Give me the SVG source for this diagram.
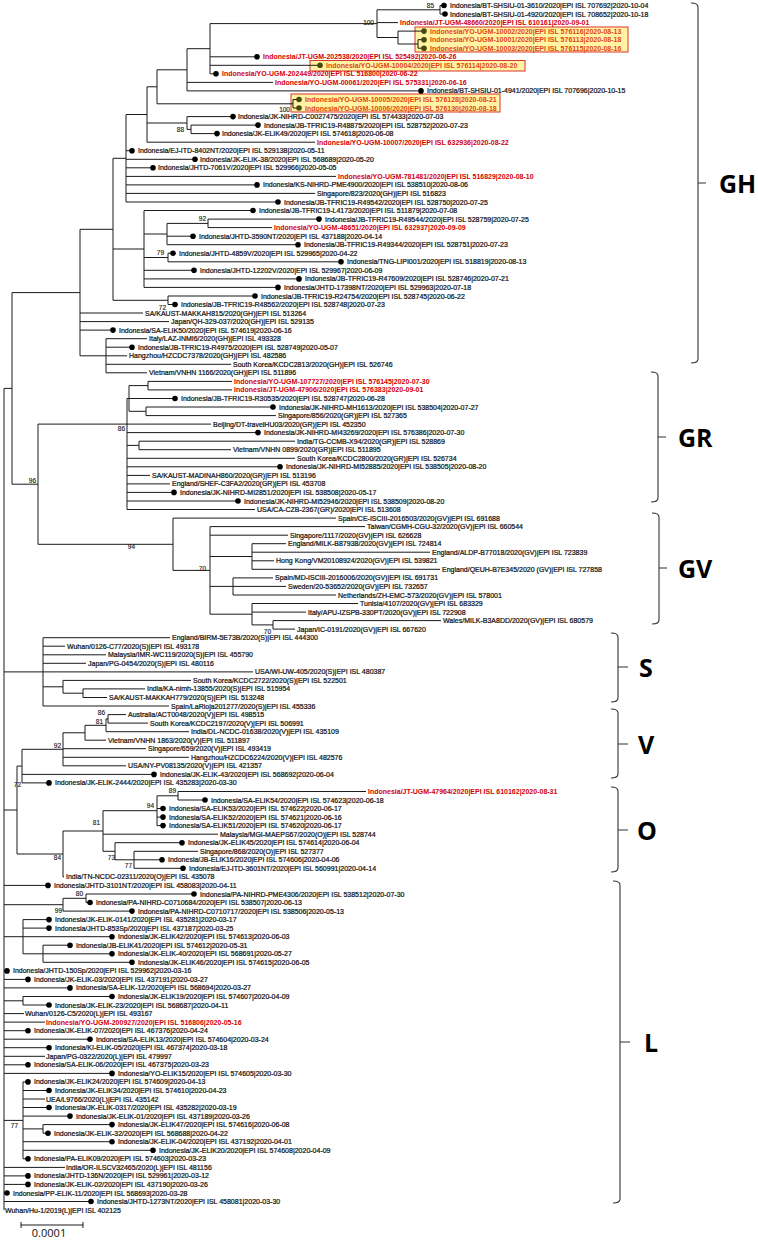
<svg xmlns="http://www.w3.org/2000/svg" xmlns:xlink="http://www.w3.org/1999/xlink" width="758" height="1240" viewBox="0 0 758 1240">
<style>
.k{font:7px "Liberation Sans",Arial,sans-serif;fill:#111;stroke:#111;stroke-width:0.22;dominant-baseline:central}
.r{font:bold 7px "Liberation Sans",Arial,sans-serif;fill:#d40000;dominant-baseline:central}
.o{font:bold 7px "Liberation Sans",Arial,sans-serif;fill:#e2450f;dominant-baseline:central}
.b{font:6.5px "Liberation Sans",Arial,sans-serif;fill:#222;stroke:#222;stroke-width:0.15;text-anchor:end;dominant-baseline:central}
.c{font:bold 25px "Open Sans","DejaVu Sans",sans-serif;fill:#000;dominant-baseline:central}
.ln{fill:none;stroke:#1a1a1a;stroke-width:1}
.br{fill:none;stroke:#333;stroke-width:1.1}
.box{fill:#fff4a3;stroke:#d9342b;stroke-width:1}
</style>
<defs>
<circle id="d" r="2.8" fill="#000"/>
<circle id="g" r="2.8" fill="#4a4a08"/>
</defs>
<rect width="758" height="1240" fill="#fff"/>
<g id="highlight-boxes">
<rect class="box" x="415" y="27" width="213" height="25"/>
<rect class="box" x="310" y="60.5" width="215" height="10.5"/>
<rect class="box" x="291" y="94" width="209" height="18"/>
</g>
<g id="connectors">
<path class="ln" d="M440 5.5V14M440 5.5H444M440 14H445M418 39.7V48.2M418 39.7H424M418 48.2H424M398 31.1V44M398 31.1H424M398 44H418M377 9.8V37.5M377 9.8H440M377 22.6H398M377 37.5H398M210 23.6V73.8M210 23.6H377M210 56.8H257M210 65.3H320M210 73.8H216M187 48.7V90.9M187 48.7H210M187 82.4H273M187 90.9H421M293 99.5V108M293 99.5H299M293 108H299M157 69.8V103.8M157 69.8H187M157 103.8H293M191 125.1V133.6M191 125.1H258M191 133.6H217M187 116.6V129.4M187 116.6H233M187 129.4H191M147 86.8V142.2M147 86.8H157M147 123H187M147 142.2H315M126 114.5V202M126 114.5H147M126 150.7H132M126 159.3H195M126 167.8H153M126 176.4H336M126 184.9H257M126 193.4H315M126 202H278M208 219.1V227.6M208 219.1H319M208 227.6H272M167 223.4V244.7M167 223.4H208M167 236.2H193M167 244.7H298M168 253.2V261.8M168 253.2H173M168 261.8H341M144 210.5V287.4M144 210.5H253M144 234H167M144 257.5H168M144 270.3H194M144 278.9H299M144 287.4H278M168 296V304.5M168 296H255M168 304.5H175M113 158.3V300.3M113 158.3H126M113 249H144M113 300.3H168M106 338.7V372.8M106 338.7H147M106 347.2H132M106 355.8H127M106 364.3H231M106 372.8H147M80 229.3V355.8M80 229.3H113M80 313H143M80 321.6H169M80 330.1H113M80 355.8H106"/>
<path class="ln" d="M148 381.4V389.9M148 381.4H232M148 389.9H232M146 407V415.6M146 407H273M146 415.6H276M129 385.6V411.3M129 385.6H148M129 398.5H175M129 411.3H146M139 441.2V449.7M139 441.2H295M139 449.7H231M127 398.5V509.5M127 398.5H129M127 424.1H211M127 432.6H258M127 445.4H139M127 458.3H295M127 466.8H280M127 475.4H150M127 483.9H170M127 492.4H174M127 501H238M127 509.5H255"/>
<path class="ln" d="M273 620.6V629.1M273 620.6H441M273 629.1H295M252 603.5V624.9M252 603.5H358M252 612.1H306M252 624.9H273M233 577.9V595M233 577.9H273M233 586.4H286M233 595H336M252 543.7V569.3M252 543.7H286M252 552.2H430M252 560.8H274M252 569.3H440M210 526.6V614.2M210 526.6H365M210 535.2H288M210 556.5H252M210 586.4H233M210 614.2H252M173 518.1V570.4M173 518.1H336M173 570.4H210M38 424.1V544.3M38 424.1H127M38 544.3H173M12 292.6V484.2M12 292.6H80M12 484.2H38M4 388.4V1210.1M4 388.4H12"/>
<path class="ln" d="M83 688.9V697.5M83 688.9H145M83 697.5H107M63 680.4V693.2M63 680.4H191M63 693.2H83M43 637.7V706M43 637.7H170M43 646.2H65M43 654.8H106M43 663.3H86M43 671.9H253M43 686.8H63M43 706H169M4 671.9H43"/>
<path class="ln" d="M108 714.6V723.1M108 714.6H126M108 723.1H148M106 718.9V731.7M106 718.9H108M106 731.7H189M85 725.3V740.2M85 725.3H106M85 740.2H106M63 732.8V765.8M63 732.8H85M63 748.7H146M63 757.3H189M63 765.8H126M22 749.3V782.9M22 749.3H63M22 774.4H154M22 782.9H49"/>
<path class="ln" d="M178 791.5V800M178 791.5H366M178 800H205M157 795.8V825.6M157 795.8H178M157 808.5H163M157 817.1H163M157 825.6H163M134 851.3V868.3M134 851.3H198M134 859.8H162M134 868.3H183M115 842.7V859.8M115 842.7H182M115 859.8H134M103 810.7V851.3M103 810.7H157M103 834.2H218M103 851.3H115M63 831V876.9M63 831H103M63 876.9H64M17 766.1V854M17 766.1H22M17 854H63M4 810H17"/>
<path class="ln" d="M4 885.4H48M86 894V902.5M86 894H194M86 902.5H90M63 898.3V911.1M63 898.3H86M63 911.1H132M4 904.7H63M43 945.2V962.3M43 945.2H70M43 953.8H112M43 962.3H132M23 919.6V953.8M23 919.6H49M23 928.1H49M23 953.8H43M4 936.7H112M4 970.9H7M4 979.4H28M4 987.9H70M23 996.5V1005M23 996.5H112M23 1005H49M4 1000.8H23M4 1013.6H24M4 1022.1H45M4 1030.7H28M4 1039.2H90M4 1047.7H49M4 1056.3H45M4 1064.8H28M4 1073.4H112M43 1124.6V1133.2M43 1124.6H112M43 1133.2H48M23 1081.9V1158.8M23 1081.9H28M23 1090.5H49M23 1099H45M23 1107.5H49M23 1116.1H70M23 1128.9H43M23 1141.7H112M23 1150.3H153M23 1158.8H28M4 1120.4H23M4 1167.4H65M4 1175.9H28M4 1184.4H28M4 1193H7M4 1201.5H91"/>
</g>
<g id="bootstrap">
<text class="b" x="434" y="5">85</text>
<text class="b" x="374" y="22.5">100</text>
<text class="b" x="290" y="109.5">100</text>
<text class="b" x="184" y="129.5">88</text>
<text class="b" x="206" y="218.5">92</text>
<text class="b" x="164" y="252.5">79</text>
<text class="b" x="166" y="307.5">72</text>
<text class="b" x="125" y="428">86</text>
<text class="b" x="36" y="480">96</text>
<text class="b" x="135" y="546">94</text>
<text class="b" x="206" y="568">70</text>
<text class="b" x="271" y="631">70</text>
<text class="b" x="105" y="712.5">86</text>
<text class="b" x="103" y="721">81</text>
<text class="b" x="61" y="745">92</text>
<text class="b" x="21" y="784">72</text>
<text class="b" x="176" y="790">89</text>
<text class="b" x="154" y="805">94</text>
<text class="b" x="100" y="822">81</text>
<text class="b" x="61" y="857">84</text>
<text class="b" x="115" y="857">73</text>
<text class="b" x="132" y="865">77</text>
<text class="b" x="83" y="893">80</text>
<text class="b" x="62" y="910">99</text>
<text class="b" x="18" y="1125">77</text>
</g>
<g id="leaves">
<g id="n1"><use href="#d" x="444" y="5.5"/><text class="k" x="450" y="5.5">Indonesia/BT-SHSIU-01-3610/2020|EPI ISL 707692|2020-10-04</text></g>
<g id="n2"><use href="#d" x="445" y="14"/><text class="k" x="450" y="14">Indonesia/BT-SHSIU-01-4920/2020|EPI ISL 708652|2020-10-18</text></g>
<g id="n3"><text class="r" x="400" y="22.6">Indonesia/JT-UGM-48660/2020|EPI ISL 610161|2020-09-01</text></g>
<g id="n4"><use href="#g" x="424" y="31.1"/><text class="o" x="430" y="31.1">Indonesia/YO-UGM-10002/2020|EPI ISL 576116|2020-08-13</text></g>
<g id="n5"><use href="#g" x="424" y="39.7"/><text class="o" x="430" y="39.7">Indonesia/YO-UGM-10001/2020|EPI ISL 576113|2020-08-18</text></g>
<g id="n6"><use href="#g" x="424" y="48.2"/><text class="o" x="430" y="48.2">Indonesia/YO-UGM-10003/2020|EPI ISL 576115|2020-08-16</text></g>
<g id="n7"><use href="#d" x="257" y="56.8"/><text class="r" x="263" y="56.8">Indonesia/JT-UGM-202538/2020|EPI ISL 525492|2020-06-26</text></g>
<g id="n8"><use href="#g" x="320" y="65.3"/><text class="o" x="326" y="65.3">Indonesia/YO-UGM-10004/2020|EPI ISL 576114|2020-08-20</text></g>
<g id="n9"><use href="#d" x="216" y="73.8"/><text class="r" x="222" y="73.8">Indonesia/YO-UGM-202449/2020|EPI ISL 516800|2020-06-22</text></g>
<g id="n10"><text class="r" x="275" y="82.4">Indonesia/YO-UGM-00061/2020|EPI ISL 575331|2020-06-16</text></g>
<g id="n11"><use href="#d" x="421" y="90.9"/><text class="k" x="427" y="90.9">Indonesia/BT-SHSIU-01-4941/2020|EPI ISL 707696|2020-10-15</text></g>
<g id="n12"><use href="#g" x="299" y="99.5"/><text class="o" x="305" y="99.5">Indonesia/YO-UGM-10005/2020|EPI ISL 576128|2020-08-21</text></g>
<g id="n13"><use href="#g" x="299" y="108"/><text class="o" x="305" y="108">Indonesia/YO-UGM-10006/2020|EPI ISL 576130|2020-08-18</text></g>
<g id="n14"><use href="#d" x="233" y="116.6"/><text class="k" x="238" y="116.6">Indonesia/JK-NIHRD-C0027475/2020|EPI ISL 574433|2020-07-03</text></g>
<g id="n15"><use href="#d" x="258" y="125.1"/><text class="k" x="264" y="125.1">Indonesia/JB-TFRIC19-R48875/2020|EPI ISL 528752|2020-07-23</text></g>
<g id="n16"><use href="#d" x="217" y="133.6"/><text class="k" x="222" y="133.6">Indonesia/JK-ELIK49/2020|EPI ISL 574618|2020-06-08</text></g>
<g id="n17"><text class="r" x="317" y="142.2">Indonesia/YO-UGM-10007/2020|EPI ISL 632936|2020-08-22</text></g>
<g id="n18"><use href="#d" x="132" y="150.7"/><text class="k" x="138" y="150.7">Indonesia/EJ-ITD-8402NT/2020|EPI ISL 529138|2020-05-11</text></g>
<g id="n19"><use href="#d" x="195" y="159.3"/><text class="k" x="200" y="159.3">Indonesia/JK-ELIK-38/2020|EPI ISL 568689|2020-05-20</text></g>
<g id="n20"><use href="#d" x="153" y="167.8"/><text class="k" x="158" y="167.8">Indonesia/JHTD-7061V/2020|EPI ISL 529966|2020-05-05</text></g>
<g id="n21"><text class="r" x="338" y="176.4">Indonesia/YO-UGM-781481/2020|EPI ISL 516829|2020-08-10</text></g>
<g id="n22"><use href="#d" x="257" y="184.9"/><text class="k" x="263" y="184.9">Indonesia/KS-NIHRD-PME4900/2020|EPI ISL 538510|2020-08-06</text></g>
<g id="n23"><text class="k" x="317" y="193.4">Singapore/823/2020(GH)|EPI ISL 516823</text></g>
<g id="n24"><use href="#d" x="278" y="202"/><text class="k" x="284" y="202">Indonesia/JB-TFRIC19-R49542/2020|EPI ISL 528750|2020-07-25</text></g>
<g id="n25"><use href="#d" x="253" y="210.5"/><text class="k" x="259" y="210.5">Indonesia/JB-TFRIC19-L4173/2020|EPI ISL 511879|2020-07-08</text></g>
<g id="n26"><use href="#d" x="319" y="219.1"/><text class="k" x="325" y="219.1">Indonesia/JB-TFRIC19-R49544/2020|EPI ISL 528759|2020-07-25</text></g>
<g id="n27"><text class="r" x="274" y="227.6">Indonesia/YO-UGM-48651/2020|EPI ISL 632937|2020-09-09</text></g>
<g id="n28"><use href="#d" x="193" y="236.2"/><text class="k" x="199" y="236.2">Indonesia/JHTD-3590NT/2020|EPI ISL 437188|2020-04-14</text></g>
<g id="n29"><use href="#d" x="298" y="244.7"/><text class="k" x="304" y="244.7">Indonesia/JB-TFRIC19-R49344/2020|EPI ISL 528751|2020-07-23</text></g>
<g id="n30"><use href="#d" x="173" y="253.2"/><text class="k" x="179" y="253.2">Indonesia/JHTD-4859V/2020|EPI ISL 529965|2020-04-22</text></g>
<g id="n31"><use href="#d" x="341" y="261.8"/><text class="k" x="347" y="261.8">Indonesia/TNG-LIPI001/2020|EPI ISL 518819|2020-08-13</text></g>
<g id="n32"><use href="#d" x="194" y="270.3"/><text class="k" x="200" y="270.3">Indonesia/JHTD-12202V/2020|EPI ISL 529967|2020-06-09</text></g>
<g id="n33"><use href="#d" x="299" y="278.9"/><text class="k" x="305" y="278.9">Indonesia/JB-TFRIC19-R47609/2020|EPI ISL 528746|2020-07-21</text></g>
<g id="n34"><use href="#d" x="278" y="287.4"/><text class="k" x="284" y="287.4">Indonesia/JHTD-17398NT/2020|EPI ISL 529963|2020-07-18</text></g>
<g id="n35"><use href="#d" x="255" y="296"/><text class="k" x="261" y="296">Indonesia/JB-TFRIC19-R24754/2020|EPI ISL 528745|2020-06-22</text></g>
<g id="n36"><use href="#d" x="175" y="304.5"/><text class="k" x="181" y="304.5">Indonesia/JB-TFRIC19-R48562/2020|EPI ISL 528748|2020-07-23</text></g>
<g id="n37"><text class="k" x="145" y="313">SA/KAUST-MAKKAH815/2020(GH)|EPI ISL 513264</text></g>
<g id="n38"><text class="k" x="171" y="321.6">Japan/QH-329-037/2020(GH)|EPI ISL 529135</text></g>
<g id="n39"><use href="#d" x="113" y="330.1"/><text class="k" x="119" y="330.1">Indonesia/SA-ELIK50/2020|EPI ISL 574619|2020-06-16</text></g>
<g id="n40"><text class="k" x="149" y="338.7">Italy/LAZ-INMI6/2020(GH)|EPI ISL 493328</text></g>
<g id="n41"><use href="#d" x="132" y="347.2"/><text class="k" x="138" y="347.2">Indonesia/JB-TFRIC19-R4975/2020|EPI ISL 528749|2020-05-07</text></g>
<g id="n42"><text class="k" x="129" y="355.8">Hangzhou/HZCDC7378/2020(GH)|EPI ISL 482586</text></g>
<g id="n43"><text class="k" x="233" y="364.3">South Korea/KCDC2813/2020(GH)|EPI ISL 526746</text></g>
<g id="n44"><text class="k" x="149" y="372.8">Vietnam/VNHN 1166/2020(GH)|EPI ISL 511896</text></g>
<g id="n45"><text class="r" x="234" y="381.4">Indonesia/YO-UGM-107727/2020|EPI ISL 576145|2020-07-30</text></g>
<g id="n46"><text class="r" x="234" y="389.9">Indonesia/JT-UGM-47906/2020|EPI ISL 576383|2020-09-01</text></g>
<g id="n47"><use href="#d" x="175" y="398.5"/><text class="k" x="181" y="398.5">Indonesia/JB-TFRIC19-R30535/2020|EPI ISL 528747|2020-06-28</text></g>
<g id="n48"><use href="#d" x="273" y="407"/><text class="k" x="279" y="407">Indonesia/JK-NIHRD-MH1613/2020|EPI ISL 538504|2020-07-27</text></g>
<g id="n49"><text class="k" x="278" y="415.6">Singapore/856/2020(GR)|EPI ISL 527365</text></g>
<g id="n50"><text class="k" x="213" y="424.1">Beijing/DT-travelHU03/2020(GR)|EPI ISL 452350</text></g>
<g id="n51"><use href="#d" x="258" y="432.6"/><text class="k" x="264" y="432.6">Indonesia/JK-NIHRD-MI43269/2020|EPI ISL 576386|2020-07-30</text></g>
<g id="n52"><text class="k" x="297" y="441.2">India/TG-CCMB-X94/2020(GR)|EPI ISL 528869</text></g>
<g id="n53"><text class="k" x="233" y="449.7">Vietnam/VNHN 0899/2020(GR)|EPI ISL 511895</text></g>
<g id="n54"><text class="k" x="297" y="458.3">South Korea/KCDC2800/2020(GR)|EPI ISL 526734</text></g>
<g id="n55"><use href="#d" x="280" y="466.8"/><text class="k" x="286" y="466.8">Indonesia/JK-NIHRD-MI52885/2020|EPI ISL 538505|2020-08-20</text></g>
<g id="n56"><text class="k" x="152" y="475.4">SA/KAUST-MADINAH860/2020(GR)|EPI ISL 513196</text></g>
<g id="n57"><text class="k" x="172" y="483.9">England/SHEF-C3FA2/2020(GR)|EPI ISL 453708</text></g>
<g id="n58"><use href="#d" x="174" y="492.4"/><text class="k" x="180" y="492.4">Indonesia/JK-NIHRD-MI2851/2020|EPI ISL 538508|2020-05-17</text></g>
<g id="n59"><use href="#d" x="238" y="501"/><text class="k" x="244" y="501">Indonesia/JK-NIHRD-MI52946/2020|EPI ISL 538509|2020-08-20</text></g>
<g id="n60"><text class="k" x="257" y="509.5">USA/CA-CZB-2367(GR)/2020|EPI ISL 513608</text></g>
<g id="n61"><text class="k" x="338" y="518.1">Spain/CE-ISCIII-2016503/2020(GV)|EPI ISL 691688</text></g>
<g id="n62"><text class="k" x="367" y="526.6">Taiwan/CGMH-CGU-32/2020(GV)|EPI ISL 660544</text></g>
<g id="n63"><text class="k" x="290" y="535.2">Singapore/1117/2020(GV)|EPI ISL 626628</text></g>
<g id="n64"><text class="k" x="288" y="543.7">England/MILK-B87938/2020(GV)|EPI ISL 724814</text></g>
<g id="n65"><text class="k" x="432" y="552.2">England/ALDP-B77018/2020(GV)|EPI ISL 723839</text></g>
<g id="n66"><text class="k" x="276" y="560.8">Hong Kong/VM20108924/2020(GV)|EPI ISL 539821</text></g>
<g id="n67"><text class="k" x="442" y="569.3">England/QEUH-B7E345/2020 (GV)|EPI ISL 727858</text></g>
<g id="n68"><text class="k" x="275" y="577.9">Spain/MD-ISCIII-2016006/2020(GV)|EPI ISL 691731</text></g>
<g id="n69"><text class="k" x="288" y="586.4">Sweden/20-53652/2020(GV)|EPI ISL 732657</text></g>
<g id="n70"><text class="k" x="338" y="595">Netherlands/ZH-EMC-573/2020(GV)|EPI ISL 578001</text></g>
<g id="n71"><text class="k" x="360" y="603.5">Tunisia/4107/2020(GV)|EPI ISL 683329</text></g>
<g id="n72"><text class="k" x="308" y="612.1">Italy/APU-IZSPB-330PT/2020(GV)|EPI ISL 722908</text></g>
<g id="n73"><text class="k" x="443" y="620.6">Wales/MILK-B3A8DD/2020(GV)|EPI ISL 680579</text></g>
<g id="n74"><text class="k" x="297" y="629.1">Japan/IC-0191/2020(GV)|EPI ISL 667620</text></g>
<g id="n75"><text class="k" x="172" y="637.7">England/BIRM-5E73B/2020(S)|EPI ISL 444300</text></g>
<g id="n76"><text class="k" x="67" y="646.2">Wuhan/0126-C77/2020(S)|EPI ISL 493178</text></g>
<g id="n77"><text class="k" x="108" y="654.8">Malaysia/IMR-WC119/2020(S)|EPI ISL 455790</text></g>
<g id="n78"><text class="k" x="88" y="663.3">Japan/PG-0454/2020(S)|EPI ISL 480116</text></g>
<g id="n79"><text class="k" x="255" y="671.9">USA/WI-UW-405/2020(S)|EPI ISL 480387</text></g>
<g id="n80"><text class="k" x="193" y="680.4">South Korea/KCDC2722/2020(S)|EPI ISL 522501</text></g>
<g id="n81"><text class="k" x="147" y="688.9">India/KA-nimh-13855/2020(S)|EPI ISL 515954</text></g>
<g id="n82"><text class="k" x="109" y="697.5">SA/KAUST-MAKKAH779/2020(S)|EPI ISL 513248</text></g>
<g id="n83"><text class="k" x="171" y="706">Spain/LaRioja201277/2020(S)|EPI ISL 455336</text></g>
<g id="n84"><text class="k" x="128" y="714.6">Australia/ACT0048/2020(V)|EPI ISL 498515</text></g>
<g id="n85"><text class="k" x="150" y="723.1">South Korea/KCDC2197/2020(V)|EPI ISL 506991</text></g>
<g id="n86"><text class="k" x="191" y="731.7">India/DL-NCDC-01638/2020(V)|EPI ISL 435109</text></g>
<g id="n87"><text class="k" x="108" y="740.2">Vietnam/VNHN 1863/2020(V)|EPI ISL 511897</text></g>
<g id="n88"><text class="k" x="148" y="748.7">Singapore/659/2020(V)|EPI ISL 493419</text></g>
<g id="n89"><text class="k" x="191" y="757.3">Hangzhou/HZCDC6224/2020(V)|EPI ISL 482576</text></g>
<g id="n90"><text class="k" x="128" y="765.8">USA/NY-PV08135/2020(V)|EPI ISL 421357</text></g>
<g id="n91"><use href="#d" x="154" y="774.4"/><text class="k" x="160" y="774.4">Indonesia/JK-ELIK-43/2020|EPI ISL 568692|2020-06-04</text></g>
<g id="n92"><use href="#d" x="49" y="782.9"/><text class="k" x="55" y="782.9">Indonesia/JK-ELIK-2444/2020|EPI ISL 435283|2020-03-30</text></g>
<g id="n93"><text class="r" x="368" y="791.5">Indonesia/JT-UGM-47964/2020|EPI ISL 610162|2020-08-31</text></g>
<g id="n94"><use href="#d" x="205" y="800"/><text class="k" x="211" y="800">Indonesia/SA-ELIK54/2020|EPI ISL 574623|2020-06-18</text></g>
<g id="n95"><use href="#d" x="163" y="808.5"/><text class="k" x="169" y="808.5">Indonesia/SA-ELIK53/2020|EPI ISL 574622|2020-06-17</text></g>
<g id="n96"><use href="#d" x="163" y="817.1"/><text class="k" x="169" y="817.1">Indonesia/SA-ELIK52/2020|EPI ISL 574621|2020-06-16</text></g>
<g id="n97"><use href="#d" x="163" y="825.6"/><text class="k" x="169" y="825.6">Indonesia/SA-ELIK51/2020|EPI ISL 574620|2020-06-17</text></g>
<g id="n98"><text class="k" x="220" y="834.2">Malaysia/MGI-MAEPS67/2020(O)|EPI ISL 528744</text></g>
<g id="n99"><use href="#d" x="182" y="842.7"/><text class="k" x="188" y="842.7">Indonesia/JK-ELIK45/2020|EPI ISL 574614|2020-06-04</text></g>
<g id="n100"><text class="k" x="200" y="851.3">Singapore/868/2020(O)|EPI ISL 527377</text></g>
<g id="n101"><use href="#d" x="162" y="859.8"/><text class="k" x="168" y="859.8">Indonesia/JB-ELIK16/2020|EPI ISL 574606|2020-04-06</text></g>
<g id="n102"><use href="#d" x="183" y="868.3"/><text class="k" x="189" y="868.3">Indonesia/EJ-ITD-3601NT/2020|EPI ISL 560991|2020-04-14</text></g>
<g id="n103"><text class="k" x="66" y="876.9">India/TN-NCDC-02311/2020(O)|EPI ISL 435078</text></g>
<g id="n104"><use href="#d" x="48" y="885.4"/><text class="k" x="54" y="885.4">Indonesia/JHTD-3101NT/2020|EPI ISL 458083|2020-04-11</text></g>
<g id="n105"><use href="#d" x="194" y="894"/><text class="k" x="200" y="894">Indonesia/PA-NIHRD-PME4306/2020|EPI ISL 538512|2020-07-30</text></g>
<g id="n106"><use href="#d" x="90" y="902.5"/><text class="k" x="96" y="902.5">Indonesia/PA-NIHRD-C0710684/2020|EPI ISL 538507|2020-06-13</text></g>
<g id="n107"><use href="#d" x="132" y="911.1"/><text class="k" x="138" y="911.1">Indonesia/PA-NIHRD-C0710717/2020|EPI ISL 538506|2020-05-13</text></g>
<g id="n108"><use href="#d" x="49" y="919.6"/><text class="k" x="55" y="919.6">Indonesia/JK-ELIK-0141/2020|EPI ISL 435281|2020-03-17</text></g>
<g id="n109"><use href="#d" x="49" y="928.1"/><text class="k" x="55" y="928.1">Indonesia/JHTD-853Sp/2020|EPI ISL 437187|2020-03-25</text></g>
<g id="n110"><use href="#d" x="112" y="936.7"/><text class="k" x="118" y="936.7">Indonesia/JK-ELIK42/2020|EPI ISL 574613|2020-06-03</text></g>
<g id="n111"><use href="#d" x="70" y="945.2"/><text class="k" x="76" y="945.2">Indonesia/JB-ELIK41/2020|EPI ISL 574612|2020-05-31</text></g>
<g id="n112"><use href="#d" x="112" y="953.8"/><text class="k" x="118" y="953.8">Indonesia/JK-ELIK-40/2020|EPI ISL 568691|2020-05-27</text></g>
<g id="n113"><use href="#d" x="132" y="962.3"/><text class="k" x="138" y="962.3">Indonesia/JK-ELIK46/2020|EPI ISL 574615|2020-06-05</text></g>
<g id="n114"><use href="#d" x="7" y="970.9"/><text class="k" x="13" y="970.9">Indonesia/JHTD-150Sp/2020|EPI ISL 529962|2020-03-16</text></g>
<g id="n115"><use href="#d" x="28" y="979.4"/><text class="k" x="34" y="979.4">Indonesia/JK-ELIK-03/2020|EPI ISL 437191|2020-03-27</text></g>
<g id="n116"><use href="#d" x="70" y="987.9"/><text class="k" x="76" y="987.9">Indonesia/SA-ELIK-12/2020|EPI ISL 568694|2020-03-27</text></g>
<g id="n117"><use href="#d" x="112" y="996.5"/><text class="k" x="118" y="996.5">Indonesia/JK-ELIK19/2020|EPI ISL 574607|2020-04-09</text></g>
<g id="n118"><use href="#d" x="49" y="1005"/><text class="k" x="55" y="1005">Indonesia/JK-ELIK-23/2020|EPI ISL 568687|2020-04-11</text></g>
<g id="n119"><text class="k" x="25" y="1013.6">Wuhan/0126-C5/2020(L)|EPI ISL 493167</text></g>
<g id="n120"><text class="r" x="46" y="1022.1">Indonesia/YO-UGM-200927/2020|EPI ISL 516806|2020-05-16</text></g>
<g id="n121"><use href="#d" x="28" y="1030.7"/><text class="k" x="34" y="1030.7">Indonesia/JK-ELIK-07/2020|EPI ISL 467376|2020-04-24</text></g>
<g id="n122"><use href="#d" x="90" y="1039.2"/><text class="k" x="96" y="1039.2">Indonesia/SA-ELIK13/2020|EPI ISL 574604|2020-03-24</text></g>
<g id="n123"><use href="#d" x="49" y="1047.7"/><text class="k" x="55" y="1047.7">Indonesia/KI-ELIK-05/2020|EPI ISL 467374|2020-03-18</text></g>
<g id="n124"><text class="k" x="46" y="1056.3">Japan/PG-0322/2020(L)|EPI ISL 479997</text></g>
<g id="n125"><use href="#d" x="28" y="1064.8"/><text class="k" x="34" y="1064.8">Indonesia/SA-ELIK-06/2020|EPI ISL 467375|2020-03-23</text></g>
<g id="n126"><use href="#d" x="112" y="1073.4"/><text class="k" x="118" y="1073.4">Indonesia/YO-ELIK15/2020|EPI ISL 574605|2020-03-30</text></g>
<g id="n127"><use href="#d" x="28" y="1081.9"/><text class="k" x="34" y="1081.9">Indonesia/JK-ELIK24/2020|EPI ISL 574609|2020-04-13</text></g>
<g id="n128"><use href="#d" x="49" y="1090.5"/><text class="k" x="55" y="1090.5">Indonesia/JK-ELIK34/2020|EPI ISL 574610|2020-04-23</text></g>
<g id="n129"><text class="k" x="46" y="1099">UEA/L9766/2020(L)|EPI ISL 435142</text></g>
<g id="n130"><use href="#d" x="49" y="1107.5"/><text class="k" x="55" y="1107.5">Indonesia/JK-ELIK-0317/2020|EPI ISL 435282|2020-03-19</text></g>
<g id="n131"><use href="#d" x="70" y="1116.1"/><text class="k" x="76" y="1116.1">Indonesia/JK-ELIK-01/2020|EPI ISL 437189|2020-03-26</text></g>
<g id="n132"><use href="#d" x="112" y="1124.6"/><text class="k" x="118" y="1124.6">Indonesia/JK-ELIK47/2020|EPI ISL 574616|2020-06-08</text></g>
<g id="n133"><use href="#d" x="48" y="1133.2"/><text class="k" x="54" y="1133.2">Indonesia/JK-ELIK-32/2020|EPI ISL 568688|2020-04-22</text></g>
<g id="n134"><use href="#d" x="112" y="1141.7"/><text class="k" x="118" y="1141.7">Indonesia/JK-ELIK-04/2020|EPI ISL 437192|2020-04-01</text></g>
<g id="n135"><use href="#d" x="153" y="1150.3"/><text class="k" x="159" y="1150.3">Indonesia/JK-ELIK20/2020|EPI ISL 574608|2020-04-09</text></g>
<g id="n136"><use href="#d" x="28" y="1158.8"/><text class="k" x="34" y="1158.8">Indonesia/PA-ELIK09/2020|EPI ISL 574603|2020-03-23</text></g>
<g id="n137"><text class="k" x="66" y="1167.4">India/OR-ILSCV32465/2020(L)|EPI ISL 481156</text></g>
<g id="n138"><use href="#d" x="28" y="1175.9"/><text class="k" x="34" y="1175.9">Indonesia/JHTD-136N/2020|EPI ISL 529961|2020-03-12</text></g>
<g id="n139"><use href="#d" x="28" y="1184.4"/><text class="k" x="34" y="1184.4">Indonesia/JK-ELIK-02/2020|EPI ISL 437190|2020-03-26</text></g>
<g id="n140"><use href="#d" x="7" y="1193"/><text class="k" x="13" y="1193">Indonesia/PP-ELIK-11/2020|EPI ISL 568693|2020-03-28</text></g>
<g id="n141"><use href="#d" x="91" y="1201.5"/><text class="k" x="97" y="1201.5">Indonesia/JHTD-1273NT/2020|EPI ISL 458081|2020-03-30</text></g>
<g id="n142"><text class="k" x="5" y="1210.1">Wuhan/Hu-1/2019(L)|EPI ISL 402125</text></g>
</g>
<g id="clades">
<path class="br" d="M691 3Q698 3 698 7V359Q698 363 691 363M698 183H706"/>
<text class="c" x="719" y="183">GH</text>
<path class="br" d="M651 372Q658 372 658 376V498Q658 502 651 502M658 437H666"/>
<text class="c" x="678" y="437">GR</text>
<path class="br" d="M652 513Q659 513 659 517V620Q659 624 652 624M659 568H667"/>
<text class="c" x="678" y="568">GV</text>
<path class="br" d="M611 633Q618 633 618 637V698Q618 702 611 702M618 667H628"/>
<text class="c" x="639" y="667">S</text>
<path class="br" d="M611 709Q618 709 618 713V774Q618 778 611 778M618 744H628"/>
<text class="c" x="638" y="744">V</text>
<path class="br" d="M611 787Q618 787 618 791V868Q618 872 611 872M618 830H628"/>
<text class="c" x="637" y="830">O</text>
<path class="br" d="M613 881Q620 881 620 885V1199Q620 1203 613 1203M620 1042H630"/>
<text class="c" x="644" y="1042">L</text>
</g>
<g id="scale-bar">
<path class="ln" d="M21 1225H83M21 1222V1228M83 1222V1228"/>
<text x="49" y="1237" text-anchor="middle" style="font:11px 'Open Sans','DejaVu Sans',sans-serif;fill:#111">0.0001</text>
</g>
</svg>
